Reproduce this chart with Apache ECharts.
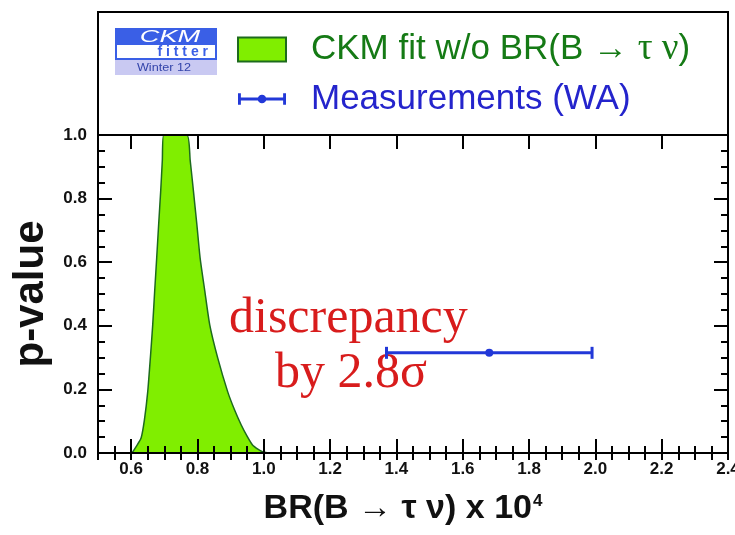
<!DOCTYPE html>
<html>
<head>
<meta charset="utf-8">
<script src="https://cdn.jsdelivr.net/npm/echarts@6/dist/echarts.min.js"></script>
<style>
    html, body { margin: 0; padding: 0; background: #fff; }
    #chart { width: 735px; height: 535px; }
</style>
</head>
<body>
<div id="chart"></div>
<script>
// CKM fit p-value curve (BR x 10^4 vs p-value)
const brValues = [0.600, 0.605, 0.615, 0.630, 0.640, 0.650, 0.658, 0.665, 0.671, 0.677, 0.683, 0.689, 0.694, 0.698,
                  0.768, 0.778, 0.788, 0.798, 0.808, 0.822, 0.837, 0.861, 0.891, 0.912, 0.932, 0.950, 0.966, 0.982, 0.996, 1.010, 1.030];
const pValues  = [0.000, 0.004, 0.020, 0.047, 0.104, 0.193, 0.300, 0.403, 0.510, 0.613, 0.720, 0.822, 0.920, 1.000,
                  1.000, 0.920, 0.822, 0.720, 0.613, 0.510, 0.403, 0.299, 0.193, 0.135, 0.088, 0.052, 0.025, 0.012, 0.004, 0.001, 0.000];

// measurement (WA): central, low, high, drawn at p-value height
const measCentral = [1.68];
const measLow = [1.37];
const measHigh = [1.99];
const measLevel = [0.315];

const xTickValues = [0.6, 0.8, 1.0, 1.2, 1.4, 1.6, 1.8, 2.0, 2.2, 2.4];

const fitName = 'CKM fit w/o BR(B \u2192 \u03c4 \u03bd)';
const measName = 'Measurements (WA)';

const SANS = "'Liberation Sans', Arial, Helvetica, sans-serif";
const NARROW = "'Liberation Sans Narrow', 'Liberation Sans', Arial, sans-serif";
const SERIF = "'Liberation Serif', 'Times New Roman', serif";
const FRAME = '#000';
const LIME = '#80ee00';
const DARKGREEN = '#1d6b1d';
const BLUE = '#2238d8';
const LOGO_BLUE = '#3a5fe6';

const chart = echarts.init(document.getElementById('chart'), null, { renderer: 'canvas' });

const fitData = brValues.map((x, i) => [x, pValues[i]]);
const measData = measCentral.map((c, i) => [c, measLow[i], measHigh[i], measLevel[i]]);

function majorX(position, withLabels) {
    return {
        type: 'value', position: position, min: 0.5, max: 2.4, z: 5,
        axisLine: { show: true, onZero: false, lineStyle: { color: FRAME, width: 2 } },
        axisTick: { show: true, inside: true, length: 14, customValues: xTickValues, lineStyle: { color: FRAME, width: 2 } },
        axisLabel: {
            show: withLabels, customValues: xTickValues, margin: 8,
            formatter: v => v.toFixed(1),
            color: '#111', fontSize: 17, fontWeight: 'bold', fontFamily: NARROW
        },
        splitLine: { show: false }
    };
}
function minorX(position) {
    return {
        type: 'value', position: position, min: 0.5, max: 2.4, interval: 0.05, z: 5,
        axisLine: { show: false },
        axisTick: { show: true, inside: true, length: 7, lineStyle: { color: FRAME, width: 2 } },
        axisLabel: { show: false },
        splitLine: { show: false }
    };
}
function yAx(position, withLabels) {
    return {
        type: 'value', position: position, min: 0, max: 1, interval: 0.2, z: 5,
        axisLine: { show: true, onZero: false, lineStyle: { color: FRAME, width: 2 } },
        axisTick: { show: true, inside: true, length: 14, lineStyle: { color: FRAME, width: 2 } },
        minorTick: { show: true, splitNumber: 4, length: 7, lineStyle: { color: FRAME, width: 2 } },
        axisLabel: {
            show: withLabels, margin: 11,
            formatter: v => v.toFixed(1),
            color: '#111', fontSize: 17, fontWeight: 'bold', fontFamily: NARROW
        },
        splitLine: { show: false },
        minorSplitLine: { show: false }
    };
}

const xBottom = majorX('bottom', true);
xBottom.name = '{t|BR(B \u2192 \u03c4 \u03bd) x 10}{s|4}';
xBottom.nameLocation = 'middle';
xBottom.nameGap = 39;
xBottom.nameTextStyle = {
    padding: [0, 20, 0, 0],
    rich: {
        t: { fontSize: 34, fontWeight: 'bold', fontFamily: SANS, color: '#111' },
        s: { fontSize: 17, fontWeight: 'bold', fontFamily: SANS, color: '#111', padding: [0, 0, 16, 1] }
    }
};

const yLeft = yAx('left', true);
yLeft.name = 'p-value';
yLeft.nameLocation = 'middle';
yLeft.nameRotate = 90;
yLeft.nameGap = 45;
yLeft.nameTextStyle = { fontSize: 42, fontWeight: 'bold', fontFamily: SANS, color: '#111' };

const option = {
    animation: false,
    backgroundColor: '#fff',
    grid: { left: 98, right: 7, top: 135, bottom: 82, outerBoundsMode: 'none' },
    xAxis: [xBottom, minorX('bottom'), majorX('top', false), minorX('top')],
    yAxis: [yLeft, yAx('right', false)],
    legend: {
        orient: 'vertical', left: 232, top: 26,
        itemWidth: 48, itemHeight: 24, itemGap: 13,
        selectedMode: false,
        textStyle: { fontSize: 35, lineHeight: 36, fontFamily: SANS, padding: [0, 0, 0, 20] },
        formatter: name => name === fitName ? 'CKM fit w/o BR(B \u2192 {g|\u03c4 \u03bd})' : name,
        data: [
            {
                name: fitName, icon: 'rect',
                itemStyle: { color: LIME, borderColor: DARKGREEN, borderWidth: 2 },
                textStyle: { color: '#157a15', rich: { g: { fontSize: 37, fontFamily: SERIF, color: '#157a15' } } }
            },
            {
                name: measName,
                icon: 'path://M0,6H3V10.5H47V6H50V18H47V13.5H3V18H0Z M20.5,12a4.5,4.5 0 1,1 9,0a4.5,4.5 0 1,1 -9,0Z',
                itemStyle: { color: BLUE, borderWidth: 0 },
                textStyle: { color: '#2424cc' }
            }
        ]
    },
    graphic: [
        // legend / logo box above the plot
        { type: 'rect', shape: { x: 98, y: 12, width: 630, height: 123 }, style: { fill: 'none', stroke: FRAME, lineWidth: 2 }, z: 1 },
        { type: 'rect', shape: { x: 115, y: 28, width: 102, height: 15 }, style: { fill: LOGO_BLUE } },
        { type: 'rect', shape: { x: 116, y: 44, width: 100, height: 15 }, style: { fill: '#fff', stroke: LOGO_BLUE, lineWidth: 2 } },
        { type: 'rect', shape: { x: 115, y: 60, width: 102, height: 15 }, style: { fill: '#c9c9f2' } },
        { type: 'text', x: 170, y: 38, scaleX: 1.7, style: { text: 'CKM', fill: '#fff', font: 'italic 16px ' + SANS, align: 'center', verticalAlign: 'middle' } },
        { type: 'text', x: 208, y: 52, style: { text: 'f i t t e r', fill: LOGO_BLUE, font: 'bold 14px ' + SANS, align: 'right', verticalAlign: 'middle' } },
        { type: 'text', x: 164, y: 68, scaleX: 1.15, style: { text: 'Winter 12', fill: '#3344aa', font: '11px ' + SANS, align: 'center', verticalAlign: 'middle' } },
        // annotation
        { type: 'text', x: 229, y: 319, style: { text: 'discrepancy', fill: '#d81c1c', font: '50px ' + SERIF, align: 'left', verticalAlign: 'middle' } },
        { type: 'text', x: 275, y: 374, style: { text: 'by 2.8\u03c3', fill: '#d81c1c', font: '50px ' + SERIF, align: 'left', verticalAlign: 'middle' } }
    ],
    series: [
        {
            name: fitName,
            type: 'line',
            xAxisIndex: 0, yAxisIndex: 0,
            data: fitData,
            symbol: 'none',
            smooth: 0.2,
            lineStyle: { color: DARKGREEN, width: 1.5 },
            itemStyle: { color: LIME },
            areaStyle: { color: LIME, opacity: 1 },
            z: 2
        },
        {
            name: measName,
            type: 'custom',
            xAxisIndex: 0, yAxisIndex: 0,
            data: measData,
            itemStyle: { color: BLUE },
            renderItem: function (params, api) {
                const pC = api.coord([api.value(0), api.value(3)]);
                const pLo = api.coord([api.value(1), api.value(3)]);
                const pHi = api.coord([api.value(2), api.value(3)]);
                const st = { stroke: BLUE, lineWidth: 3 };
                return {
                    type: 'group',
                    children: [
                        { type: 'line', shape: { x1: pLo[0], y1: pLo[1], x2: pHi[0], y2: pHi[1] }, style: st },
                        { type: 'line', shape: { x1: pLo[0], y1: pLo[1] - 6, x2: pLo[0], y2: pLo[1] + 6 }, style: st },
                        { type: 'line', shape: { x1: pHi[0], y1: pHi[1] - 6, x2: pHi[0], y2: pHi[1] + 6 }, style: st },
                        { type: 'circle', shape: { cx: pC[0], cy: pC[1], r: 4 }, style: { fill: BLUE } }
                    ]
                };
            },
            z: 3
        }
    ]
};

chart.setOption(option);
</script>
</body>
</html>
